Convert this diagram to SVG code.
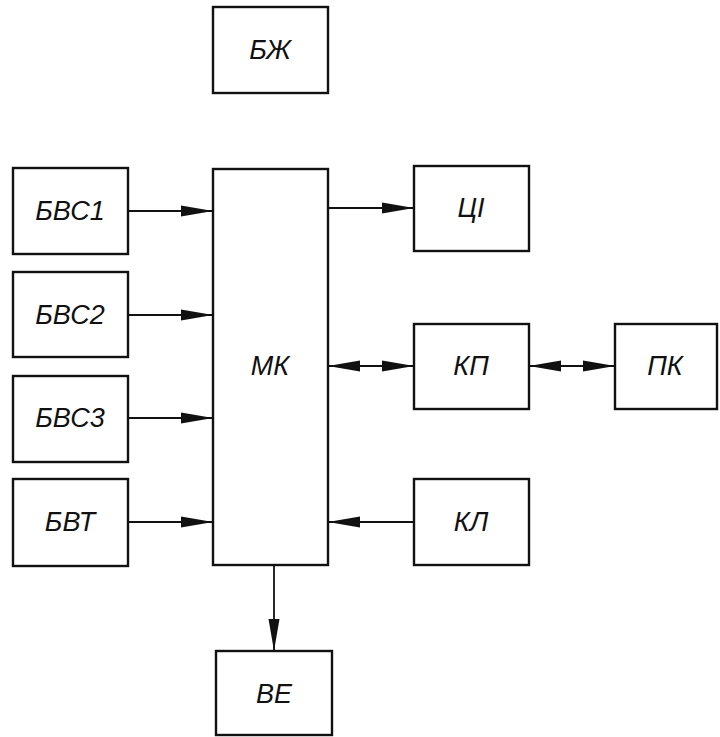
<svg xmlns="http://www.w3.org/2000/svg" width="720" height="737" viewBox="0 0 720 737">
<style>
.box{fill:#fff;stroke:#111;stroke-width:2.4}
.lbl{font-family:"Liberation Sans",Arial,sans-serif;font-style:italic;font-size:27px;fill:#111;text-anchor:middle;dominant-baseline:central}
.ln{stroke:#111;stroke-width:1.8;fill:none}
</style>
<defs>
<marker id="ah" markerUnits="userSpaceOnUse" markerWidth="34" markerHeight="14" refX="32" refY="7" orient="auto-start-reverse" viewBox="0 0 34 14">
<path d="M0,1.5 L32,7 L0,12.5 Z" fill="#111"/>
</marker>
</defs>
<rect width="720" height="737" fill="#fff"/>
<g id="connectors">
<line class="ln" x1="128" y1="211" x2="213" y2="211" marker-end="url(#ah)"/>
<line class="ln" x1="128" y1="315" x2="213" y2="315" marker-end="url(#ah)"/>
<line class="ln" x1="128" y1="418" x2="213" y2="418" marker-end="url(#ah)"/>
<line class="ln" x1="128" y1="522" x2="213" y2="522" marker-end="url(#ah)"/>
<line class="ln" x1="328" y1="208" x2="414" y2="208" marker-end="url(#ah)"/>
<line class="ln" x1="328" y1="366" x2="414" y2="366" marker-start="url(#ah)" marker-end="url(#ah)"/>
<line class="ln" x1="529" y1="366" x2="615" y2="366" marker-start="url(#ah)" marker-end="url(#ah)"/>
<line class="ln" x1="414" y1="522" x2="328" y2="522" marker-end="url(#ah)"/>
<line class="ln" x1="274" y1="565" x2="274" y2="651" marker-end="url(#ah)"/>
</g>
<g id="BZh"><rect class="box" x="213" y="7" width="115" height="86"/><text class="lbl" x="270" y="50">БЖ</text></g>
<g id="BVS1"><rect class="box" x="13" y="168" width="115" height="86"/><text class="lbl" x="70" y="211">БВС1</text></g>
<g id="BVS2"><rect class="box" x="13" y="272" width="115" height="85"/><text class="lbl" x="70" y="315">БВС2</text></g>
<g id="BVS3"><rect class="box" x="13" y="376" width="115" height="86"/><text class="lbl" x="70" y="418">БВС3</text></g>
<g id="BVT"><rect class="box" x="13" y="479" width="115" height="87"/><text class="lbl" x="70" y="522">БВТ</text></g>
<g id="MK"><rect class="box" x="213" y="169" width="115" height="396"/><text class="lbl" x="270" y="366">МК</text></g>
<g id="TsI"><rect class="box" x="414" y="166" width="115" height="85"/><text class="lbl" x="471" y="208">ЦІ</text></g>
<g id="KP"><rect class="box" x="414" y="324" width="115" height="85"/><text class="lbl" x="471" y="366">КП</text></g>
<g id="PK"><rect class="box" x="615" y="324" width="102" height="85"/><text class="lbl" x="665" y="366">ПК</text></g>
<g id="KL"><rect class="box" x="414" y="479" width="115" height="86"/><text class="lbl" x="471" y="522">КЛ</text></g>
<g id="VE"><rect class="box" x="216" y="651" width="116" height="84"/><text class="lbl" x="274" y="694">ВЕ</text></g>
</svg>
